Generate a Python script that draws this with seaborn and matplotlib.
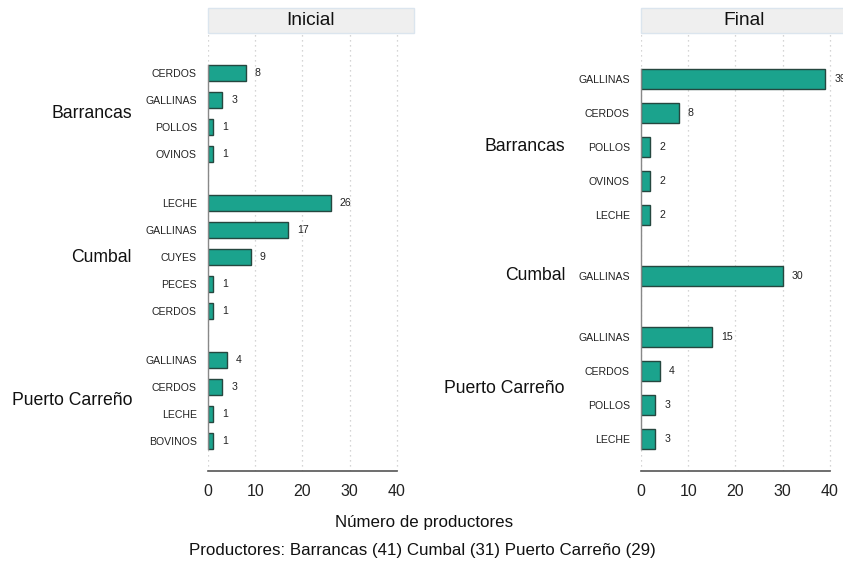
import pandas as pd
import seaborn as sns
import matplotlib.pyplot as plt
from matplotlib.patches import Rectangle
from matplotlib.transforms import blended_transform_factory

# data
groups = ["Barrancas", "Cumbal", "Puerto Carreño"]

ini_barrancas = ["CERDOS", "GALLINAS", "POLLOS", "OVINOS"]
ini_barrancas_n = [8, 3, 1, 1]
ini_cumbal = ["LECHE", "GALLINAS", "CUYES", "PECES", "CERDOS"]
ini_cumbal_n = [26, 17, 9, 1, 1]
ini_carreno = ["GALLINAS", "CERDOS", "LECHE", "BOVINOS"]
ini_carreno_n = [4, 3, 1, 1]

fin_barrancas = ["GALLINAS", "CERDOS", "POLLOS", "OVINOS", "LECHE"]
fin_barrancas_n = [39, 8, 2, 2, 2]
fin_cumbal = ["GALLINAS"]
fin_cumbal_n = [30]
fin_carreno = ["GALLINAS", "CERDOS", "POLLOS", "LECHE"]
fin_carreno_n = [15, 4, 3, 3]

x_ticks = [0, 10, 20, 30, 40]
x_label = "Número de productores"
caption = "Productores: Barrancas (41) Cumbal (31) Puerto Carreño (29)"


def build(items, counts, gap=0.8):
    rows = []
    pos = 0.0
    for g, (its, ns) in enumerate(zip(items, counts)):
        for it, n in zip(its, ns):
            rows.append({"grupo": groups[g], "item": it, "n": n, "pos": pos})
            pos += 1
        pos += gap
    return pd.DataFrame(rows)


df_ini = build([ini_barrancas, ini_cumbal, ini_carreno],
               [ini_barrancas_n, ini_cumbal_n, ini_carreno_n])
df_fin = build([fin_barrancas, fin_cumbal, fin_carreno],
               [fin_barrancas_n, fin_cumbal_n, fin_carreno_n])

sns.set_theme(style="white")
plt.rcParams['font.family'] = ['Liberation Sans', 'DejaVu Sans']

W, H = 843, 561
fig = plt.figure(figsize=(W / 100, H / 100), dpi=100)

bar_color = "#1ba38d"
edge_color = "#25473f"

panels = [
    ("Inicial", df_ini, 208, 1.48, 1.11),
    ("Final", df_fin, 641, 1.35, 0.94),
]

ax_w, ax_h, ax_top = 206, 438, 33
for title, df, x0, top_m, bot_m in panels:
    ax = fig.add_axes([x0 / W, (H - ax_top - ax_h) / H, ax_w / W, ax_h / H])
    sns.barplot(data=df, x="n", y="pos", orient="y", native_scale=True,
                width=0.58, color=bar_color, edgecolor=edge_color,
                linewidth=1.0, saturation=1, ax=ax)
    ax.set_xlim(0, 43.6)
    ax.set_ylim(df["pos"].max() + bot_m, -top_m)

    ax.set_yticks(df["pos"])
    ax.set_yticklabels(df["item"], fontsize=7.6, color="#222222")
    ax.tick_params(axis="y", length=0, pad=8)
    ax.set_xticks(x_ticks)
    ax.tick_params(axis="x", labelsize=11.5, length=5, width=1,
                   color="#555555", labelcolor="#222222", pad=4)
    ax.set_xlabel("")
    ax.set_ylabel("")

    ax.xaxis.grid(True, color="#c8c8c8", linestyle=(0, (1, 3)), linewidth=0.9)
    ax.yaxis.grid(False)
    ax.set_axisbelow(True)

    for s in ["top", "right"]:
        ax.spines[s].set_visible(False)
    ax.spines["bottom"].set_bounds(0, 40)
    ax.spines["bottom"].set_color("#555555")
    ax.spines["bottom"].set_linewidth(1.2)
    ax.spines["left"].set_bounds(df["pos"].min() - 0.29, df["pos"].max() + 0.29)
    ax.spines["left"].set_color("#888888")
    ax.spines["left"].set_linewidth(1.0)

    for c in ax.containers:
        ax.bar_label(c, padding=6.5, fontsize=7.6, color="#222222")

    # group labels
    tr = blended_transform_factory(ax.transAxes, ax.transData)
    for g, sub in df.groupby("grupo", sort=False):
        ax.text(-76 / ax_w, sub["pos"].mean(), g, transform=tr,
                ha="right", va="center", fontsize=12.7, color="#111111")

    # title strip
    sh = 25 / ax_h
    ax.add_patch(Rectangle((0, 1), 1, sh, transform=ax.transAxes,
                           clip_on=False, facecolor="#efefef",
                           edgecolor="#dbe5ee", linewidth=1))
    ax.text(0.5, 1 + sh / 2, title, transform=ax.transAxes,
            ha="center", va="center", fontsize=13.8, color="#111111")

fig.text(424 / W, (H - 522) / H, x_label, ha="center", va="center",
         fontsize=12.2, color="#111111")
fig.text(422 / W, (H - 550) / H, caption, ha="center", va="center",
         fontsize=12.2, color="#111111")

fig.savefig("out.png", dpi=100)
plt.close(fig)
